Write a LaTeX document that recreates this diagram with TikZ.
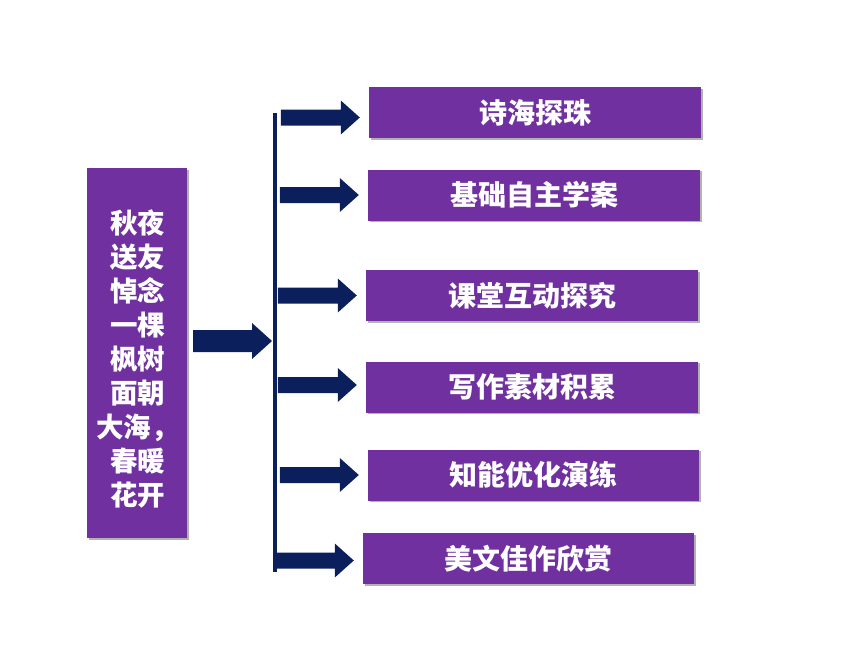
\documentclass[tikz,border=0pt]{standalone}
\usepackage{fontspec}
\newfontfamily\cjk{Noto Sans CJK SC}
\usetikzlibrary{shadows,calc}
\definecolor{boxpurple}{HTML}{7030A0}
\definecolor{navy}{HTML}{0A1F5C}
\tikzset{
  box/.style={fill=boxpurple, draw=none, minimum height=51pt, text=white, inner sep=0pt,
    font=\cjk\bfseries\fontsize{28}{30}\selectfont,
    drop shadow={shadow xshift=1.5pt, shadow yshift=-1.5pt, fill=black, opacity=0.3}},
  blk/.style={fill=navy, draw=none}
}
\begin{document}
\begin{tikzpicture}[x=1pt,y=-1pt]
\useasboundingbox (0,0) rectangle (860,645);
% left box
\node[box, minimum width=100pt, minimum height=370pt] (main) at (137,353) {};
\node[align=center, text=white, inner sep=0pt,
  font=\cjk\bfseries\fontsize{27.5}{34}\selectfont] (mtext) at (137.5,358.5)
  {秋夜\\送友\\悼念\\一棵\\枫树\\面朝\\大海，\\春暖\\花开};
% right boxes
\node[box, minimum width=332pt] (b1) at (535,112.5) {诗海探珠};
\node[box, minimum width=332pt] (b2) at (534,195) {基础自主学案};
\node[box, minimum width=332pt] (b3) at (532,295.5) {课堂互动探究};
\node[box, minimum width=332pt] (b4) at (532,387) {写作素材积累};
\node[box, minimum width=331pt] (b5) at (533.5,475) {知能优化演练};
\node[box, minimum width=331pt] (b6) at (528.5,558.5) {美文佳作欣赏};
% vertical bar
\coordinate (vt) at (275,113);
\coordinate (vb) at (275,572);
\draw[navy, line width=4pt] (vt) -- (vb);
% big arrow
\coordinate (ms) at (193,341);
\fill[blk] (ms) ++(0,-11) -- ++(59,0) -- ++(0,-7) -- (272,341) -- (252,359) -- ++(0,-7) -- ++(-59,0) -- cycle;
% small arrows
\foreach \b/\dy in {b1/5, b2/0, b3/0, b4/-2, b5/0, b6/2}{
  \coordinate (t) at ($(\b.west)+(-9,\dy)$);
  \fill[blk] (t) -- ++(-19,-17) -- ++(0,9) -- ++(-60,0) -- ++(0,16) -- ++(60,0) -- ++(0,9) -- cycle;
}
\end{tikzpicture}
\end{document}
